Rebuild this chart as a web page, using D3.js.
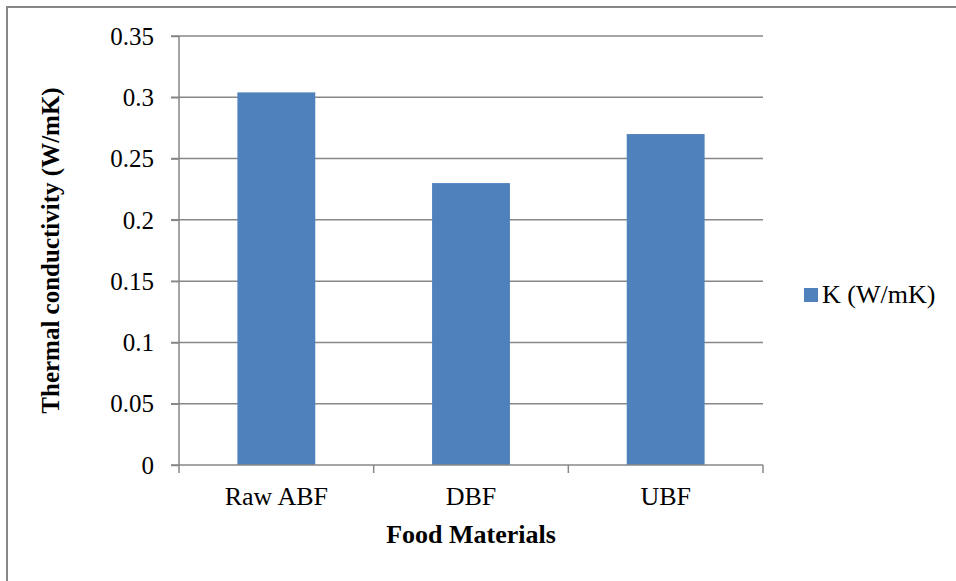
<!DOCTYPE html>
<html>
<head>
<meta charset="utf-8">
<script src="https://cdn.jsdelivr.net/npm/d3@7"></script>
<style>
  html, body { margin: 0; padding: 0; background: #fff; }
  svg { display: block; }
  svg text { font-family: "Liberation Serif", "Times New Roman", serif !important; fill: #000; }
</style>
</head>
<body>
<svg id="chart" width="956" height="581"></svg>
<script>
const categories = ["Raw ABF", "DBF", "UBF"];
const values = [0.304, 0.23, 0.27];
const yTicks = [0, 0.05, 0.1, 0.15, 0.2, 0.25, 0.3, 0.35];
const seriesName = "K (W/mK)";
const xTitle = "Food Materials";
const yTitle = "Thermal conductivity (W/mK)";

const svg = d3.select("#chart");
const W = 956, H = 581;
const m = { left: 179, right: 763, top: 36, bottom: 465 };

// outer chart border
svg.append("rect").attr("x", 7).attr("y", 7).attr("width", W + 10).attr("height", H + 10)
  .attr("fill", "#fff").attr("stroke", "#878787").attr("stroke-width", 2);

const x = d3.scaleBand().domain(categories).range([m.left, m.right]).paddingInner(0.6).paddingOuter(0.3);
const xb = d3.scaleBand().domain(categories).range([m.left, m.right]);
const y = d3.scaleLinear().domain([0, 0.35]).range([m.bottom, m.top]);

// gridlines
svg.append("g").selectAll("line").data(yTicks.filter(d => d > 0)).join("line")
  .attr("x1", m.left - 8).attr("x2", m.right)
  .attr("y1", d => y(d)).attr("y2", d => y(d))
  .attr("stroke", "#878787").attr("stroke-width", 1.5);

// y axis
const yAxis = d3.axisLeft(y).tickValues(yTicks).tickSize(8).tickPadding(17)
  .tickFormat(d => d === 0 ? "0" : String(+d.toFixed(2)));
const gy = svg.append("g").attr("transform", `translate(${m.left},0)`).call(yAxis)
  .attr("font-family", "Liberation Serif").attr("font-size", 25);
gy.select(".domain").attr("stroke", "#878787").attr("stroke-width", 1.5).attr("d", `M-8,${m.bottom}H0V${m.top}`);
gy.selectAll(".tick line").attr("stroke", "#878787").attr("stroke-width", 1.5);
gy.selectAll(".tick text").attr("font-size", 25).attr("fill", "#000").attr("dy", "0.33em");

// bars
svg.append("g").selectAll("rect").data(values).join("rect")
  .attr("x", (d, i) => x(categories[i]))
  .attr("width", x.bandwidth())
  .attr("y", d => y(d))
  .attr("height", d => y(0) - y(d))
  .attr("fill", "#4F81BD");

// x axis
const gx = svg.append("g").attr("transform", `translate(0,${m.bottom})`);
gx.append("line").attr("x1", m.left).attr("x2", m.right).attr("y1", 0).attr("y2", 0)
  .attr("stroke", "#878787").attr("stroke-width", 1.5);
const bounds = categories.map(c => xb(c)).concat([m.right]);
gx.selectAll("line.tk").data(bounds).join("line").attr("class", "tk")
  .attr("x1", d => d).attr("x2", d => d).attr("y1", 0).attr("y2", 8)
  .attr("stroke", "#878787").attr("stroke-width", 1.5);
gx.selectAll("text").data(categories).join("text")
  .attr("x", d => xb(d) + xb.bandwidth() / 2).attr("y", 40)
  .attr("text-anchor", "middle").attr("font-size", 26).text(d => d);

// axis titles
svg.append("text").attr("x", (m.left + m.right) / 2).attr("y", 543)
  .attr("text-anchor", "middle").attr("font-size", 26).attr("font-weight", "bold").text(xTitle);
svg.append("text").attr("transform", `translate(59,${(m.top + m.bottom) / 2}) rotate(-90)`)
  .attr("text-anchor", "middle").attr("font-size", 25).attr("font-weight", "bold").text(yTitle);

// legend
const lg = svg.append("g");
lg.append("rect").attr("x", 804).attr("y", 288).attr("width", 14).attr("height", 14).attr("fill", "#4F81BD");
lg.append("text").attr("x", 822).attr("y", 303).attr("font-size", 26).text(seriesName);
</script>
</body>
</html>
